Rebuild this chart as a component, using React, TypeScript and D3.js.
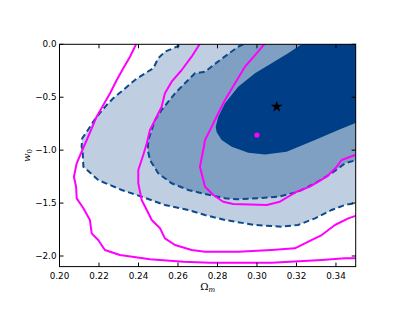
import React from "react";
import * as d3 from "d3";

type Pt = [number, number];

// confidence regions (Omega_m, w0)
const outerRegion: Pt[] = [
  [0.2602, 0.0], [0.2602, -0.016], [0.2534, -0.07], [0.25, -0.132], [0.2475, -0.227],
  [0.2433, -0.274], [0.2382, -0.337], [0.2323, -0.432], [0.2272, -0.51], [0.2239, -0.573],
  [0.2196, -0.668], [0.2171, -0.731], [0.2138, -0.826], [0.2115, -0.888], [0.2112, -0.967],
  [0.2117, -0.999], [0.2121, -1.156], [0.2196, -1.282], [0.2315, -1.376], [0.2416, -1.44],
  [0.2534, -1.518], [0.2652, -1.565], [0.2737, -1.613], [0.2838, -1.66], [0.299, -1.707],
  [0.3125, -1.723], [0.3208, -1.707], [0.3294, -1.644], [0.3378, -1.565], [0.3446, -1.518],
  [0.3511, -1.496],
];

const middleRegion: Pt[] = [
  [0.2931, 0.0], [0.2905, -0.023], [0.2813, -0.148], [0.2737, -0.259], [0.2686, -0.274],
  [0.2635, -0.368], [0.2585, -0.463], [0.2551, -0.542], [0.2517, -0.621], [0.2484, -0.715],
  [0.2467, -0.81], [0.245, -0.904], [0.2447, -0.999], [0.2458, -1.093], [0.25, -1.219],
  [0.2568, -1.313], [0.2652, -1.376], [0.2737, -1.414], [0.2838, -1.455], [0.2905, -1.464],
  [0.3007, -1.455], [0.3108, -1.44], [0.3209, -1.393], [0.3294, -1.313], [0.3378, -1.219],
  [0.3446, -1.124], [0.3505, -1.093],
];

const innerRegion: Pt[] = [
  [0.3226, 0.0], [0.3158, -0.085], [0.3074, -0.18], [0.299, -0.274], [0.2905, -0.401],
  [0.2838, -0.557], [0.2804, -0.684], [0.2791, -0.778], [0.2796, -0.83], [0.2821, -0.904],
  [0.2872, -0.967], [0.2956, -1.024], [0.3041, -1.041], [0.315, -1.015], [0.3294, -0.904],
  [0.3412, -0.81], [0.3496, -0.746],
];

// magenta contours of the second probe
const magenta1: Pt[] = [
  [0.2393, 0.02], [0.2357, -0.117], [0.2323, -0.227], [0.229, -0.337], [0.2256, -0.463],
  [0.2222, -0.573], [0.2188, -0.684], [0.2163, -0.794], [0.2138, -0.904], [0.2112, -1.015],
  [0.2087, -1.124], [0.2073, -1.251], [0.2084, -1.345], [0.2087, -1.455], [0.2121, -1.549],
  [0.2154, -1.66], [0.2163, -1.786], [0.2196, -1.849], [0.223, -1.943], [0.2306, -1.991],
  [0.2458, -2.031], [0.2627, -2.054], [0.2762, -2.063], [0.3074, -2.063], [0.3328, -2.038],
  [0.3446, -2.022], [0.3505, -2.022],
];

const magenta2: Pt[] = [
  [0.2716, 0.02], [0.2669, -0.117], [0.2619, -0.243], [0.2568, -0.353], [0.2534, -0.463],
  [0.2517, -0.59], [0.2484, -0.715], [0.2458, -0.81], [0.2442, -0.935], [0.2424, -1.046],
  [0.2399, -1.188], [0.2399, -1.313], [0.2416, -1.471], [0.2442, -1.565], [0.2467, -1.66],
  [0.2509, -1.738], [0.2534, -1.833], [0.2585, -1.896], [0.2669, -1.943], [0.2737, -1.959],
  [0.2905, -1.959], [0.3074, -1.943], [0.3192, -1.927], [0.326, -1.865], [0.3328, -1.802],
  [0.3395, -1.707], [0.3462, -1.644], [0.3513, -1.613],
];

const magenta3: Pt[] = [
  [0.3046, 0.02], [0.2998, -0.085], [0.2939, -0.212], [0.2889, -0.368], [0.2838, -0.526],
  [0.2804, -0.652], [0.2771, -0.778], [0.2737, -0.904], [0.2728, -0.999], [0.2711, -1.156],
  [0.2737, -1.345], [0.2779, -1.424], [0.2829, -1.487], [0.288, -1.509], [0.3049, -1.518],
  [0.3116, -1.487], [0.3201, -1.393], [0.3268, -1.345], [0.3353, -1.251], [0.3404, -1.156],
  [0.3429, -1.093], [0.3496, -1.046],
];

const starPoint: Pt = [0.31, -0.59];
const dotPoint: Pt = [0.3, -0.857];

const xTicks = [0.2, 0.22, 0.24, 0.26, 0.28, 0.3, 0.32, 0.34];
const yTicks = [0.0, -0.5, -1.0, -1.5, -2.0];

const width = 415;
const height = 312;
const margin = { top: 44.3, right: 59.3, bottom: 45.4, left: 59.5 };

export default function App() {
  const x = d3.scaleLinear().domain([0.2, 0.35]).range([margin.left, width - margin.right]);
  const y = d3.scaleLinear().domain([-2.1, 0]).range([height - margin.bottom, margin.top]);
  const line = d3.line<Pt>().x(d => x(d[0])).y(d => y(d[1]));

  // close a region through the top-right corner, outside the plotting box
  const closeRegion = (pts: Pt[]): Pt[] => {
    const first = pts[0];
    const last = pts[pts.length - 1];
    return [...pts, [0.36, last[1]], [0.36, 0.05], [first[0], 0.05]];
  };

  const x0 = x(0.2), x1 = x(0.35), y0 = y(0), y1 = y(-2.1);
  const font = "'DejaVu Sans', sans-serif";
  const fmtY = (d: number) => (d < 0 ? "\u2212" + Math.abs(d).toFixed(1) : d.toFixed(1));

  return (
    <svg width={width} height={height} style={{ position: "absolute", left: 0, top: 0, background: "#fff" }}>
      <defs>
        <clipPath id="plot">
          <rect x={x0} y={y0} width={x1 - x0} height={y1 - y0} />
        </clipPath>
      </defs>
      <g clipPath="url(#plot)">
        <path d={line(closeRegion(outerRegion)) + "Z"} fill="#bfcfe1" />
        <path d={line(closeRegion(middleRegion)) + "Z"} fill="#7fa0c3" />
        <path d={line(closeRegion(innerRegion)) + "Z"} fill="#003f87" />
        <path d={line(outerRegion) ?? ""} fill="none" stroke="#0d4a8c" strokeWidth={2} strokeDasharray="6,3.5" />
        <path d={line(middleRegion) ?? ""} fill="none" stroke="#0d4a8c" strokeWidth={2} strokeDasharray="6,3.5" />
        {[magenta1, magenta2, magenta3].map((m, i) => (
          <path key={i} d={line(m) ?? ""} fill="none" stroke="#ff00ff" strokeWidth={2} strokeLinejoin="round" />
        ))}
        <path
          d={d3.symbol(d3.symbolStar, 42)() ?? ""}
          transform={`translate(${x(starPoint[0])},${y(starPoint[1])})`}
          fill="#000"
        />
        <circle cx={x(dotPoint[0])} cy={y(dotPoint[1])} r={2.6} fill="#ff00ff" />
      </g>
      <rect x={x0} y={y0} width={x1 - x0} height={y1 - y0} fill="none" stroke="#000" strokeWidth={1} />
      {xTicks.map(t => (
        <g key={"x" + t}>
          <line x1={x(t)} x2={x(t)} y1={y1} y2={y1 - 4} stroke="#000" />
          <line x1={x(t)} x2={x(t)} y1={y0} y2={y0 + 4} stroke="#000" />
          <text x={x(t)} y={y1 + 12} textAnchor="middle" fontFamily={font} fontSize={8.8} fill="#000">
            {t.toFixed(2)}
          </text>
        </g>
      ))}
      {yTicks.map(t => (
        <g key={"y" + t}>
          <line x1={x0} x2={x0 + 4} y1={y(t)} y2={y(t)} stroke="#000" />
          <line x1={x1} x2={x1 - 4} y1={y(t)} y2={y(t)} stroke="#000" />
          <text x={x0 - 3} y={y(t)} dy="0.35em" textAnchor="end" fontFamily={font} fontSize={8.8} fill="#000">
            {fmtY(t)}
          </text>
        </g>
      ))}
      <text x={(x0 + x1) / 2} y={290} textAnchor="middle" fontFamily="'DejaVu Serif', serif" fontSize={10} fill="#000">
        Ω<tspan fontSize={7} dy={2} fontStyle="italic">m</tspan>
      </text>
      <text
        transform={`translate(30,${(y0 + y1) / 2}) rotate(-90)`}
        textAnchor="middle"
        fontFamily="'DejaVu Serif', serif"
        fontSize={10}
        fill="#000"
      >
        <tspan fontStyle="italic">w</tspan>
        <tspan fontSize={7} dy={2}>0</tspan>
      </text>
    </svg>
  );
}
